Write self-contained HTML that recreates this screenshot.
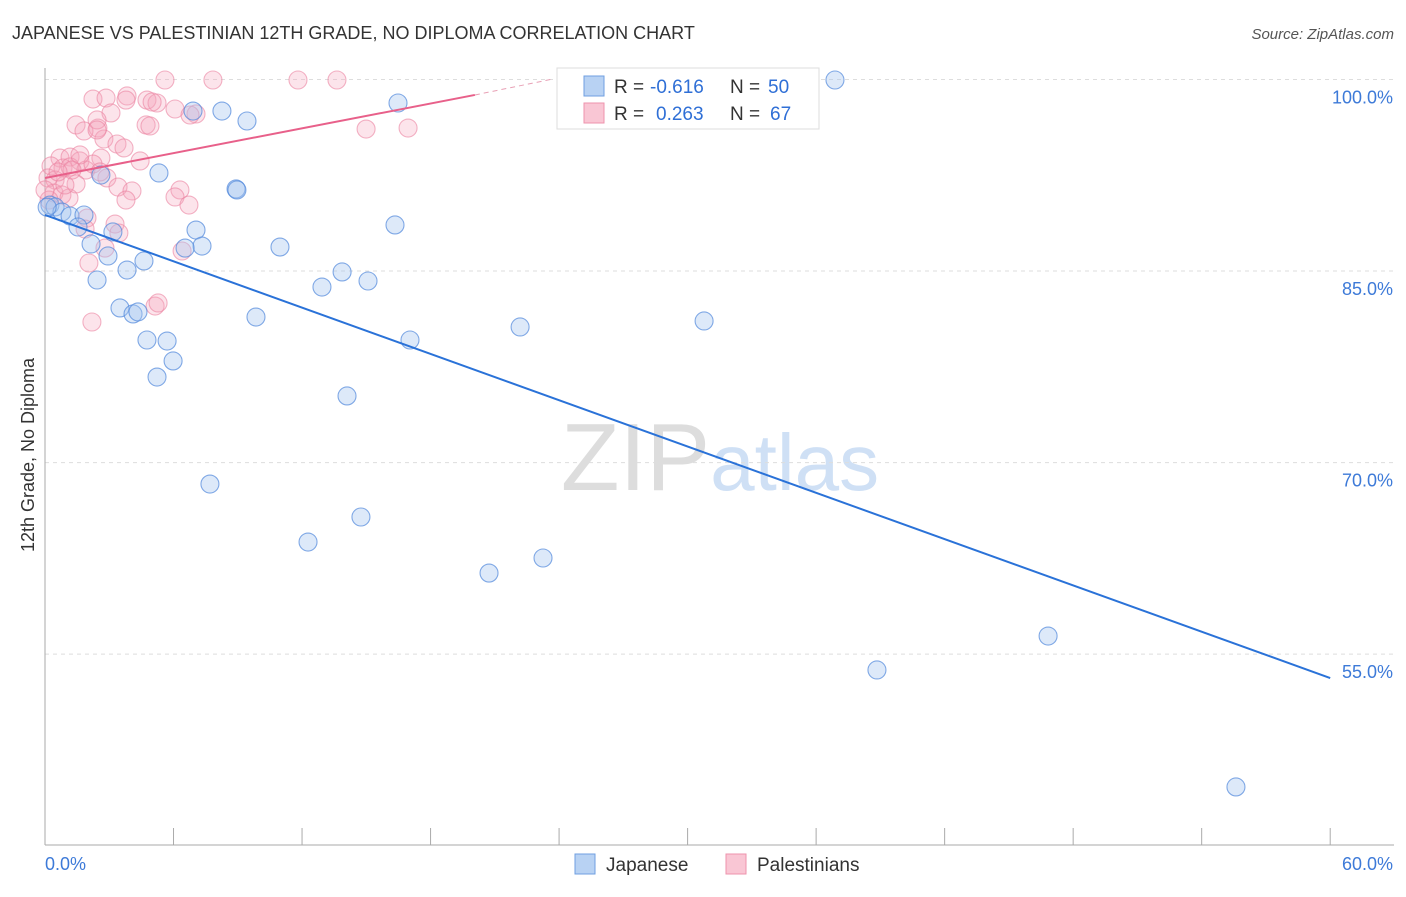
<!DOCTYPE html>
<html><head><meta charset="utf-8"><style>
body{margin:0;background:#fff;font-family:"Liberation Sans",sans-serif}
svg text{font-family:"Liberation Sans",sans-serif}
</style></head><body>
<svg id="chart" width="1406" height="892" xmlns="http://www.w3.org/2000/svg">
<text x="12" y="39" font-size="18" fill="#333">JAPANESE VS PALESTINIAN 12TH GRADE, NO DIPLOMA CORRELATION CHART</text>
<text x="1394" y="39" font-size="15" fill="#555" text-anchor="end" font-style="italic">Source: ZipAtlas.com</text>
<text x="34" y="455" font-size="18" fill="#333" text-anchor="middle" transform="rotate(-90 34 455)">12th Grade, No Diploma</text>
<text x="720" y="490" font-size="96" fill="#ddd" text-anchor="middle" font-family="Liberation Serif">ZIP<tspan fill="#cfe0f5" font-family="Liberation Sans" font-size="80">atlas</tspan></text>
<g id="grid"></g><g id="axes"></g><g id="pts"></g><g id="lines"></g>
<g>
<rect x="557" y="68" width="262" height="61" fill="#fff" stroke="#ddd"/>
<rect x="584" y="76" width="20" height="20" fill="#b8d2f3" stroke="#6f9fe0"/>
<text x="614" y="93" font-size="19" fill="#333">R =</text>
<text x="650" y="93" font-size="19" fill="#2f6fd6">-0.616</text>
<text x="730" y="93" font-size="19" fill="#333">N =</text>
<text x="768" y="93" font-size="19" fill="#2f6fd6">50</text>
<rect x="584" y="103" width="20" height="20" fill="#f9c6d4" stroke="#ee93ac"/>
<text x="614" y="120" font-size="19" fill="#333">R =</text>
<text x="656" y="120" font-size="19" fill="#2f6fd6">0.263</text>
<text x="730" y="120" font-size="19" fill="#333">N =</text>
<text x="770" y="120" font-size="19" fill="#2f6fd6">67</text>
</g>
<g>
<rect x="575" y="854" width="20" height="20" fill="#b8d2f3" stroke="#6f9fe0"/>
<text x="606" y="871" font-size="19" fill="#333">Japanese</text>
<rect x="726" y="854" width="20" height="20" fill="#f9c6d4" stroke="#ee93ac"/>
<text x="757" y="871" font-size="19" fill="#333">Palestinians</text>
</g>
</svg>
<script>
const yTicks=[100,85,70,55];
const yTickLabels=["100.0%","85.0%","70.0%","55.0%"];
const xTickLabels=["0.0%","60.0%"];
const blueX=[36.88,16.48,6.91,8.26,9.43,5.32,2.61,8.92,8.96,0.23,0.47,0.79,1.17,1.82,1.54,2.15,3.17,7.05,7.33,6.54,10.97,16.34,2.94,4.62,3.83,2.43,13.87,12.93,15.08,3.5,4.11,4.34,9.85,22.18,30.77,4.76,5.7,17.04,5.98,5.23,14.1,7.7,14.75,12.28,20.73,23.25,46.83,38.84,55.6,0.1];
const blueY=[99.96,98.16,97.53,97.53,96.75,92.68,92.52,91.43,91.35,90.17,90.02,89.62,89.31,89.39,88.45,87.12,88.06,88.21,86.96,86.8,86.88,88.61,86.18,85.79,85.08,84.3,84.93,83.75,84.22,82.11,81.64,81.8,81.4,80.62,81.09,79.6,79.52,79.6,77.96,76.7,75.22,68.32,65.74,63.78,61.35,62.53,56.42,53.76,44.6,90.0];
const pinkX=[5.6,7.84,11.81,13.63,2.24,2.85,3.83,4.76,5.23,6.07,7.05,3.08,1.45,2.47,1.82,4.72,14.99,16.95,2.43,2.75,3.36,3.69,4.44,0.7,1.17,1.63,2.61,0.28,0.84,1.17,1.91,2.24,0.14,0.47,2.89,1.45,3.41,4.06,6.3,6.07,0.42,0.79,0.19,1.12,3.78,6.72,1.96,3.27,1.87,3.45,2.8,2.05,6.4,5.14,5.28,2.19,2.43,1.63,0.93,1.26,6.77,5.0,3.78,0.61,0,2.57,4.9];
const pinkY=[99.96,99.96,99.96,99.96,98.47,98.55,98.71,98.39,98.16,97.69,97.3,97.38,96.44,96.2,95.97,96.44,96.12,96.2,96.83,95.34,94.95,94.64,93.62,93.85,93.93,93.62,93.85,93.23,93.07,93.15,92.91,93.38,92.29,92.13,92.29,91.82,91.58,91.27,91.35,90.8,91.11,90.96,90.56,90.72,90.56,90.17,89.15,88.68,88.29,87.98,86.8,85.63,86.57,82.26,82.5,81.01,96.05,94.09,91.74,92.91,97.22,98.24,98.39,92.76,91.35,92.76,96.36];
const blueTrend=[[0,89.39],[60,53.13]];
const pinkTrend=[[0,92.29],[20.07,98.79]];
const pinkDash=[[20.07,98.79],[23.6,100]];
const NS="http://www.w3.org/2000/svg";
const X=v=>45+v*21.42, Y=v=>79.5+(100-v)*12.77;
function mk(t,a,p){const e=document.createElementNS(NS,t);for(const k in a)e.setAttribute(k,a[k]);document.getElementById(p).appendChild(e);return e;}
yTicks.forEach((v,i)=>{
 const g=mk('line',{x1:45,x2:1394,y1:Y(v),y2:Y(v),stroke:'#ddd','stroke-dasharray':'4,4'},'grid');
 
 
 const t=mk('text',{x:1393,y:Y(v)+24,'font-size':18,fill:'#3d7ad8','text-anchor':'end'},'axes');
 t.textContent=yTickLabels[i];
 
 
});
const ax=mk('line',{x1:45,x2:45,y1:68,y2:845,stroke:'#aaa'},'axes');


const bx=mk('line',{x1:45,x2:1394,y1:845,y2:845,stroke:'#aaa'},'axes');


for(let i=0;i<=10;i++){const v=i*6;const t=mk('line',{x1:X(v),x2:X(v),y1:828,y2:845,stroke:'#aaa'},'axes');
 
 }
[[0,'start',45],[60,'end',1393]].forEach((d,i)=>{const t=mk('text',{x:d[2],y:870,'font-size':18,fill:'#3d7ad8','text-anchor':d[1]},'axes');t.textContent=xTickLabels[i];
 
 });
pinkX.forEach((x,i)=>{const c=mk('circle',{cx:X(x),cy:Y(pinkY[i]),r:9,fill:'rgba(245,165,190,0.3)',stroke:'rgba(235,130,160,0.6)','stroke-width':1.1},'pts');
 
 });
blueX.forEach((x,i)=>{const c=mk('circle',{cx:X(x),cy:Y(blueY[i]),r:9,fill:'rgba(165,198,240,0.38)',stroke:'rgba(80,135,220,0.7)','stroke-width':1.1},'pts');
 
 });
const l1=mk('line',{x1:X(blueTrend[0][0]),y1:Y(blueTrend[0][1]),x2:X(blueTrend[1][0]),y2:Y(blueTrend[1][1]),stroke:'#2a72d8','stroke-width':2},'lines');


const l2=mk('line',{x1:X(pinkTrend[0][0]),y1:Y(pinkTrend[0][1]),x2:X(pinkTrend[1][0]),y2:Y(pinkTrend[1][1]),stroke:'#e8608a','stroke-width':2},'lines');


const l3=mk('line',{x1:X(pinkDash[0][0]),y1:Y(pinkDash[0][1]),x2:X(pinkDash[1][0]),y2:Y(pinkDash[1][1]),stroke:'#e8a0b5','stroke-width':1,'stroke-dasharray':'5,4'},'lines');


</script>
</body></html>
